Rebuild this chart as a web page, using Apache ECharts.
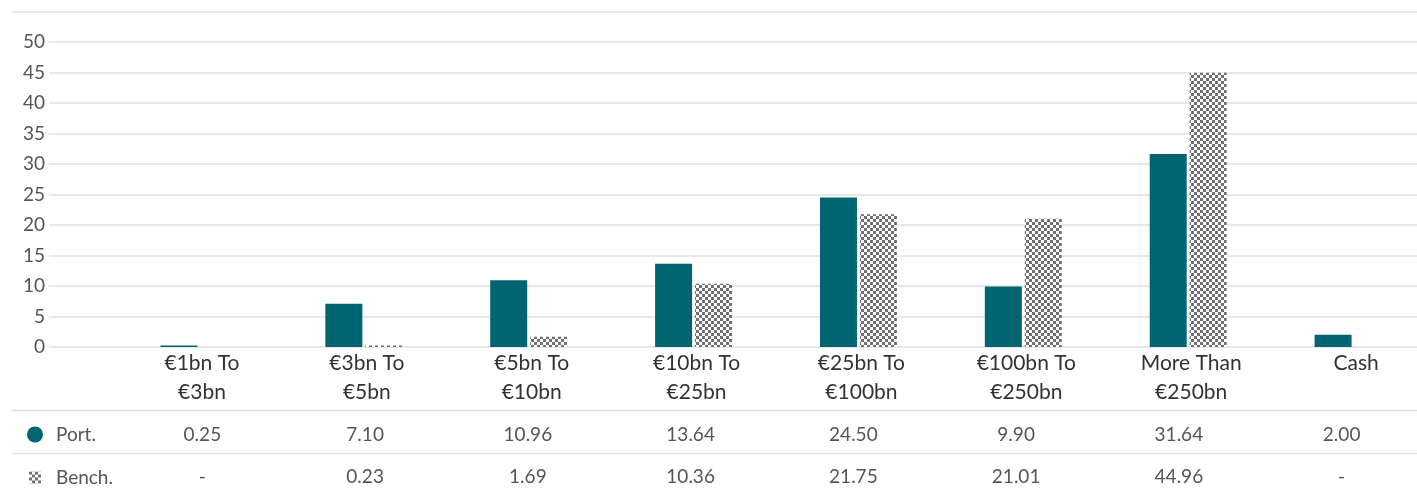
<!DOCTYPE html>
<html>
<head>
<meta charset="utf-8">
<script src="https://cdn.jsdelivr.net/npm/echarts@6/dist/echarts.min.js"></script>
<style>
html,body{margin:0;padding:0;background:#fff;}
#chart{width:1417px;height:489px;}
</style>
</head>
<body>
<div id="chart"></div>
<script>
const categories = ['€1bn To\n€3bn', '€3bn To\n€5bn', '€5bn To\n€10bn', '€10bn To\n€25bn', '€25bn To\n€100bn', '€100bn To\n€250bn', 'More Than\n€250bn', 'Cash'];
const portValues = [0.25, 7.10, 10.96, 13.64, 24.50, 9.90, 31.64, 2.00];
const benchValues = [null, 0.23, 1.69, 10.36, 21.75, 21.01, 44.96, null];
const seriesNames = ['Port.', 'Bench.'];
const yTicks = {min: 0, max: 50, interval: 5};

const fmt = v => (v === null || v === undefined) ? '-' : v.toFixed(2);
const portLabels = portValues.map(fmt);
const benchLabels = benchValues.map(fmt);

// hatch pattern
const pc = document.createElement('canvas');
pc.width = 6; pc.height = 6;
const pctx = pc.getContext('2d');
pctx.fillStyle = '#ffffff';
pctx.fillRect(0, 0, 6, 6);
pctx.fillStyle = '#707070';
pctx.fillRect(0, 0, 3, 3);
pctx.fillRect(3, 3, 3, 3);

const FONT = 'Lato';
const teal = '#006570';

const chart = echarts.init(document.getElementById('chart'));
const gridBase = {top: 42, bottom: 142, containLabel: false, outerBoundsMode: 'none'};
const option = {
  backgroundColor: '#ffffff',
  animation: false,
  textStyle: {fontFamily: FONT},
  grid: [
    Object.assign({left: 49, right: 0}, gridBase),
    Object.assign({left: 116.5, width: 1319}, gridBase),
    Object.assign({left: 121, width: 1302}, gridBase)
  ],
  xAxis: [
    {type: 'value', gridIndex: 0, show: false},
    {type: 'category', gridIndex: 1, data: categories,
      axisLine: {show: false}, axisTick: {show: false},
      axisLabel: {color: '#333', fontSize: 21, fontFamily: FONT, lineHeight: 29, margin: 2, interval: 0, padding: [0, 0, 0, 6]}},
    {type: 'category', gridIndex: 2, data: portLabels, position: 'bottom', offset: 72,
      axisLine: {show: false}, axisTick: {show: false},
      axisLabel: {color: '#555', fontSize: 19, fontFamily: FONT, margin: 6, interval: 0}},
    {type: 'category', gridIndex: 2, data: benchLabels, position: 'bottom', offset: 114,
      axisLine: {show: false}, axisTick: {show: false},
      axisLabel: {color: '#555', fontSize: 19, fontFamily: FONT, margin: 6, interval: 0}}
  ],
  yAxis: [
    {type: 'value', gridIndex: 0, min: yTicks.min, max: yTicks.max, interval: yTicks.interval,
      axisLine: {show: false}, axisTick: {show: false},
      axisLabel: {color: '#555', fontSize: 19, fontFamily: FONT, margin: 4},
      splitLine: {lineStyle: {color: '#e0e0e0', width: 1.5}}},
    {type: 'value', gridIndex: 1, min: yTicks.min, max: yTicks.max, interval: yTicks.interval, show: false},
    {type: 'value', gridIndex: 2, min: yTicks.min, max: yTicks.max, show: false}
  ],
  legend: [
    {left: 22, top: 420, itemWidth: 16, itemHeight: 16,
      textStyle: {color: '#555', fontSize: 19, fontFamily: FONT, padding: [0, 0, 0, 8]},
      data: [{name: seriesNames[0], icon: 'circle'}]},
    {left: 24, top: 463, itemWidth: 12, itemHeight: 12,
      textStyle: {color: '#555', fontSize: 19, fontFamily: FONT, padding: [0, 0, 0, 10]},
      data: [{name: seriesNames[1], icon: 'rect'}]}
  ],
  series: [
    {name: seriesNames[0], type: 'bar', xAxisIndex: 1, yAxisIndex: 1, data: portValues,
      barWidth: 37, barGap: '8%', itemStyle: {color: teal}},
    {name: seriesNames[1], type: 'bar', xAxisIndex: 1, yAxisIndex: 1, data: benchValues,
      barWidth: 37, barGap: '8%', itemStyle: {color: {image: pc, repeat: 'repeat'}}}
  ],
  graphic: [
    {type: 'line', shape: {x1: 12, y1: 12, x2: 1417, y2: 12}, style: {stroke: '#e3e3e3', lineWidth: 1.5}},
    {type: 'line', shape: {x1: 12, y1: 410.5, x2: 1417, y2: 410.5}, style: {stroke: '#dcdcdc', lineWidth: 1.5}},
    {type: 'line', shape: {x1: 12, y1: 453.5, x2: 1417, y2: 453.5}, style: {stroke: '#e6e6e6', lineWidth: 1.5}}
  ]
};
chart.setOption(option);
</script>
</body>
</html>
